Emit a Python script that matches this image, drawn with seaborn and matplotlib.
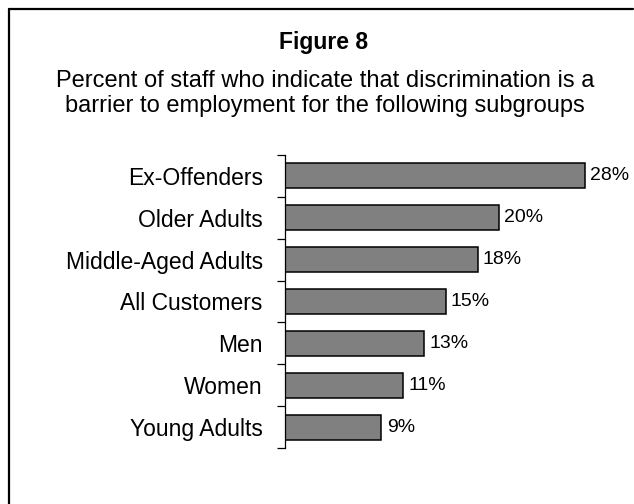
import matplotlib
matplotlib.use("Agg")
import matplotlib.pyplot as plt
from matplotlib.lines import Line2D
import seaborn as sns
import pandas as pd
import numpy as np

sns.set_theme(style="white")
plt.rcParams["font.family"] = ["Liberation Sans", "DejaVu Sans"]

groups = ["Ex-Offenders", "Older Adults", "Middle-Aged Adults", "All Customers",
          "Men", "Women", "Young Adults"]
percent = [28, 20, 18, 15, 13, 11, 9]
value_labels = ["28%", "20%", "18%", "15%", "13%", "11%", "9%"]

df = pd.DataFrame({"group": groups, "percent": percent})

fig = plt.figure(figsize=(6.34, 5.04), dpi=100)
ax = fig.add_axes([285 / 634, 1 - 448 / 504, 321 / 634, 293 / 504])

sns.barplot(data=df, x="percent", y="group", order=groups, orient="h",
            color="#808080", saturation=1, width=0.6,
            edgecolor="black", linewidth=1.1, ax=ax)

ax.set_xlim(0, 30)
ax.set_ylim(len(groups) - 0.5, -0.5)
ax.set_xlabel("")
ax.set_ylabel("")
ax.set_xticks([])
for s in ["top", "right", "bottom"]:
    ax.spines[s].set_visible(False)
ax.spines["left"].set_color("black")
ax.spines["left"].set_linewidth(0.9)

ax.tick_params(axis="y", which="major", left=False, length=0, pad=16,
               labelsize=16.5, labelcolor="black")
ax.set_yticks(np.arange(-0.5, len(groups), 1.0), minor=True)
ax.tick_params(axis="y", which="minor", left=True, length=6, width=0.9,
               color="black", direction="out")

for i, (v, lab) in enumerate(zip(percent, value_labels)):
    ax.text(v + 0.5, i, lab, va="center", ha="left", fontsize=14, color="black")

fig.text(0.511, 1 - 49 / 504, "Figure 8", ha="center", va="baseline",
         fontsize=16.5, fontweight="bold", color="black")
fig.text(0.513, 1 - 87 / 504, "Percent of staff who indicate that discrimination is a",
         ha="center", va="baseline", fontsize=17, color="black")
fig.text(0.513, 1 - 112 / 504, "barrier to employment for the following subgroups",
         ha="center", va="baseline", fontsize=17, color="black")

# frame around the figure panel
fig.add_artist(Line2D([8.5 / 634, 633 / 634], [1 - 8.5 / 504, 1 - 8.5 / 504],
                      transform=fig.transFigure, color="black", linewidth=1.6))
fig.add_artist(Line2D([8.5 / 634, 8.5 / 634], [1 - 8.5 / 504, 0],
                      transform=fig.transFigure, color="black", linewidth=1.6))

fig.savefig("out.png", dpi=100)
